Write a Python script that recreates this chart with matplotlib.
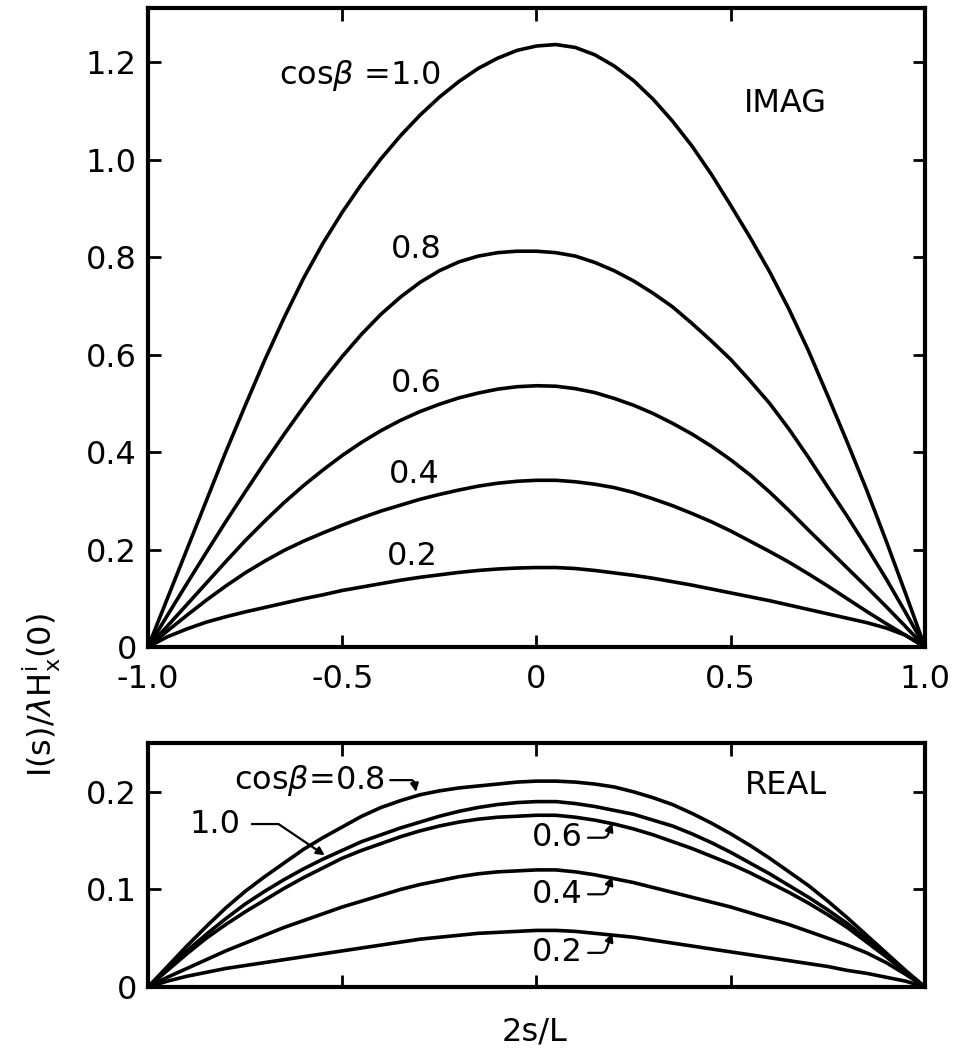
import matplotlib
matplotlib.use("Agg")
import matplotlib.pyplot as plt

# posicoes ao longo do fio (2s/L), passo de 0.05
xs = [-1.00, -0.95, -0.90, -0.85, -0.80, -0.75, -0.70, -0.65, -0.60, -0.55, -0.50,
      -0.45, -0.40, -0.35, -0.30, -0.25, -0.20, -0.15, -0.10, -0.05, 0.00,
      0.05, 0.10, 0.15, 0.20, 0.25, 0.30, 0.35, 0.40, 0.45, 0.50,
      0.55, 0.60, 0.65, 0.70, 0.75, 0.80, 0.85, 0.90, 0.95, 1.00]

# parte imaginaria, uma curva por cos(beta)
imag_10 = [0, 0.10, 0.20, 0.30, 0.40, 0.495, 0.588, 0.675, 0.756, 0.828, 0.892,
           0.950, 1.002, 1.049, 1.091, 1.128, 1.160, 1.187, 1.208, 1.224, 1.233,
           1.236, 1.230, 1.215, 1.192, 1.162, 1.124, 1.079, 1.028, 0.970, 0.906,
           0.840, 0.770, 0.693, 0.608, 0.515, 0.420, 0.322, 0.218, 0.110, 0]
imag_08 = [0, 0.065, 0.130, 0.194, 0.257, 0.318, 0.378, 0.436, 0.492, 0.546, 0.596,
           0.642, 0.683, 0.718, 0.748, 0.772, 0.790, 0.802, 0.809, 0.812, 0.812,
           0.809, 0.802, 0.789, 0.772, 0.751, 0.726, 0.698, 0.664, 0.628, 0.590,
           0.546, 0.500, 0.447, 0.389, 0.328, 0.268, 0.205, 0.140, 0.071, 0]
imag_06 = [0, 0.043, 0.087, 0.131, 0.175, 0.218, 0.258, 0.296, 0.331, 0.363, 0.393,
           0.420, 0.444, 0.465, 0.483, 0.498, 0.511, 0.521, 0.529, 0.534, 0.536,
           0.535, 0.530, 0.522, 0.510, 0.496, 0.479, 0.459, 0.437, 0.412, 0.384,
           0.353, 0.318, 0.280, 0.240, 0.201, 0.162, 0.123, 0.083, 0.042, 0]
imag_04 = [0, 0.033, 0.065, 0.096, 0.125, 0.152, 0.176, 0.198, 0.217, 0.234, 0.250,
           0.265, 0.279, 0.291, 0.303, 0.313, 0.322, 0.330, 0.336, 0.340, 0.342,
           0.342, 0.339, 0.334, 0.327, 0.317, 0.304, 0.290, 0.274, 0.257, 0.238,
           0.217, 0.196, 0.174, 0.150, 0.125, 0.099, 0.073, 0.048, 0.024, 0]
imag_02 = [0, 0.021, 0.037, 0.051, 0.062, 0.072, 0.081, 0.090, 0.099, 0.107, 0.116,
           0.123, 0.130, 0.137, 0.143, 0.148, 0.153, 0.157, 0.160, 0.162, 0.163,
           0.163, 0.161, 0.157, 0.152, 0.147, 0.141, 0.134, 0.127, 0.119, 0.111,
           0.103, 0.095, 0.086, 0.077, 0.068, 0.059, 0.050, 0.039, 0.024, 0]

# parte real
real_08 = [0, 0.021, 0.042, 0.062, 0.081, 0.098, 0.113, 0.127, 0.141, 0.153, 0.164,
           0.175, 0.184, 0.191, 0.197, 0.201, 0.204, 0.206, 0.208, 0.210, 0.211,
           0.211, 0.210, 0.208, 0.205, 0.200, 0.194, 0.187, 0.178, 0.168, 0.157,
           0.145, 0.132, 0.118, 0.104, 0.088, 0.071, 0.053, 0.035, 0.017, 0]
real_10 = [0, 0.019, 0.037, 0.054, 0.070, 0.085, 0.098, 0.110, 0.121, 0.131, 0.140,
           0.149, 0.156, 0.163, 0.169, 0.175, 0.180, 0.184, 0.187, 0.189, 0.190,
           0.190, 0.188, 0.185, 0.181, 0.177, 0.171, 0.165, 0.157, 0.148, 0.138,
           0.127, 0.116, 0.104, 0.092, 0.079, 0.065, 0.049, 0.033, 0.016, 0]
real_06 = [0, 0.017, 0.034, 0.050, 0.064, 0.077, 0.089, 0.101, 0.112, 0.122, 0.132,
           0.140, 0.147, 0.154, 0.160, 0.165, 0.169, 0.172, 0.174, 0.175, 0.176,
           0.176, 0.174, 0.171, 0.167, 0.162, 0.156, 0.149, 0.142, 0.134, 0.126,
           0.117, 0.107, 0.097, 0.086, 0.074, 0.061, 0.046, 0.031, 0.015, 0]
real_04 = [0, 0.010, 0.019, 0.028, 0.037, 0.045, 0.053, 0.061, 0.068, 0.075, 0.082,
           0.088, 0.094, 0.100, 0.105, 0.109, 0.113, 0.116, 0.118, 0.119, 0.120,
           0.120, 0.118, 0.115, 0.111, 0.107, 0.102, 0.097, 0.092, 0.087, 0.082,
           0.076, 0.070, 0.064, 0.057, 0.050, 0.043, 0.035, 0.025, 0.013, 0]
real_02 = [0, 0.006, 0.011, 0.015, 0.019, 0.022, 0.025, 0.028, 0.031, 0.034, 0.037,
           0.040, 0.043, 0.046, 0.049, 0.051, 0.053, 0.055, 0.056, 0.057, 0.058,
           0.058, 0.057, 0.055, 0.053, 0.051, 0.048, 0.045, 0.042, 0.039, 0.036,
           0.033, 0.030, 0.027, 0.024, 0.021, 0.017, 0.014, 0.010, 0.006, 0]

imag_curvas = [imag_10, imag_08, imag_06, imag_04, imag_02]
real_curvas = [real_08, real_10, real_06, real_04, real_02]

xticks = [-1.0, -0.5, 0.0, 0.5, 1.0]
xtick_labels = ["-1.0", "-0.5", "0", "0.5", "1.0"]
yticks_imag = [0, 0.2, 0.4, 0.6, 0.8, 1.0, 1.2]
ytick_labels_imag = ["0", "0.2", "0.4", "0.6", "0.8", "1.0", "1.2"]
yticks_real = [0, 0.1, 0.2]
ytick_labels_real = ["0", "0.1", "0.2"]

FS = 23
LW = 2.6

plt.rcParams["font.family"] = ["DejaVu Sans"]
fig = plt.figure(figsize=(9.72, 10.51), dpi=100)

ax1 = fig.add_axes([0.1523, 0.3844, 0.7993, 0.608])
ax2 = fig.add_axes([0.1523, 0.0609, 0.7993, 0.2321])

def estilo(ax):
    for s in ax.spines.values():
        s.set_linewidth(3)
    ax.tick_params(direction="in", top=True, right=True, length=9, width=2,
                   labelsize=FS, pad=8)
    ax.set_xlim(-1, 1)

for c in imag_curvas:
    ax1.plot(xs, c, color="black", lw=LW, solid_joinstyle="round")
estilo(ax1)
ax1.set_ylim(0, 1.311)
ax1.set_xticks(xticks)
ax1.set_xticklabels(xtick_labels)
ax1.set_yticks(yticks_imag)
ax1.set_yticklabels(ytick_labels_imag)
ax1.tick_params(axis="x", pad=12)

ax1.text(-0.455, 1.172, r"cos$\beta$ =1.0", fontsize=FS, ha="center", va="center")
ax1.text(-0.31, 0.815, "0.8", fontsize=FS, ha="center", va="center")
ax1.text(-0.31, 0.541, "0.6", fontsize=FS, ha="center", va="center")
ax1.text(-0.314, 0.354, "0.4", fontsize=FS, ha="center", va="center")
ax1.text(-0.32, 0.185, "0.2", fontsize=FS, ha="center", va="center")
ax1.text(0.64, 1.116, "IMAG", fontsize=FS, ha="center", va="center")

for c in real_curvas:
    ax2.plot(xs, c, color="black", lw=LW, solid_joinstyle="round")
estilo(ax2)
ax2.set_ylim(0, 0.25)
ax2.set_xticks(xticks)
ax2.set_xticklabels([])
ax2.set_yticks(yticks_real)
ax2.set_yticklabels(ytick_labels_real)

seta = dict(arrowstyle="-|>", color="black", lw=1.6, mutation_scale=12,
            shrinkA=2, shrinkB=0)

ax2.annotate(r"cos$\beta$=0.8", xy=(-0.31, 0.200), xytext=(-0.585, 0.212),
             fontsize=FS, ha="center", va="center",
             arrowprops=dict(seta, relpos=(1, 0.5),
                             connectionstyle="angle,angleA=0,angleB=-80,rad=3"))
ax2.annotate("1.0", xy=(-0.545, 0.135), xytext=(-0.827, 0.167),
             fontsize=FS, ha="center", va="center",
             arrowprops=dict(seta, relpos=(1, 0.5), shrinkA=6,
                             connectionstyle="angle,angleA=0,angleB=-34,rad=0"))
for lab, yt, yp in [("0.6", 0.153, 0.168), ("0.4", 0.095, 0.113), ("0.2", 0.035, 0.055)]:
    ax2.annotate(lab, xy=(0.195, yp), xytext=(0.053, yt),
                 fontsize=FS, ha="center", va="center",
                 arrowprops=dict(seta, relpos=(1, 0.5),
                                 connectionstyle="angle,angleA=0,angleB=70,rad=4"))
ax2.text(0.643, 0.206, "REAL", fontsize=FS, ha="center", va="center")

fig.text(535 / 972, 1 - 1032 / 1051, "2s/L", fontsize=FS, ha="center", va="center")
fig.text(42 / 972, 1 - 695 / 1051, r"I(s)/$\lambda$H$^{\mathrm{i}}_{\mathrm{x}}$(0)",
         fontsize=FS, ha="center", va="center", rotation=90)

fig.savefig("out.png", dpi=100, facecolor="white")
